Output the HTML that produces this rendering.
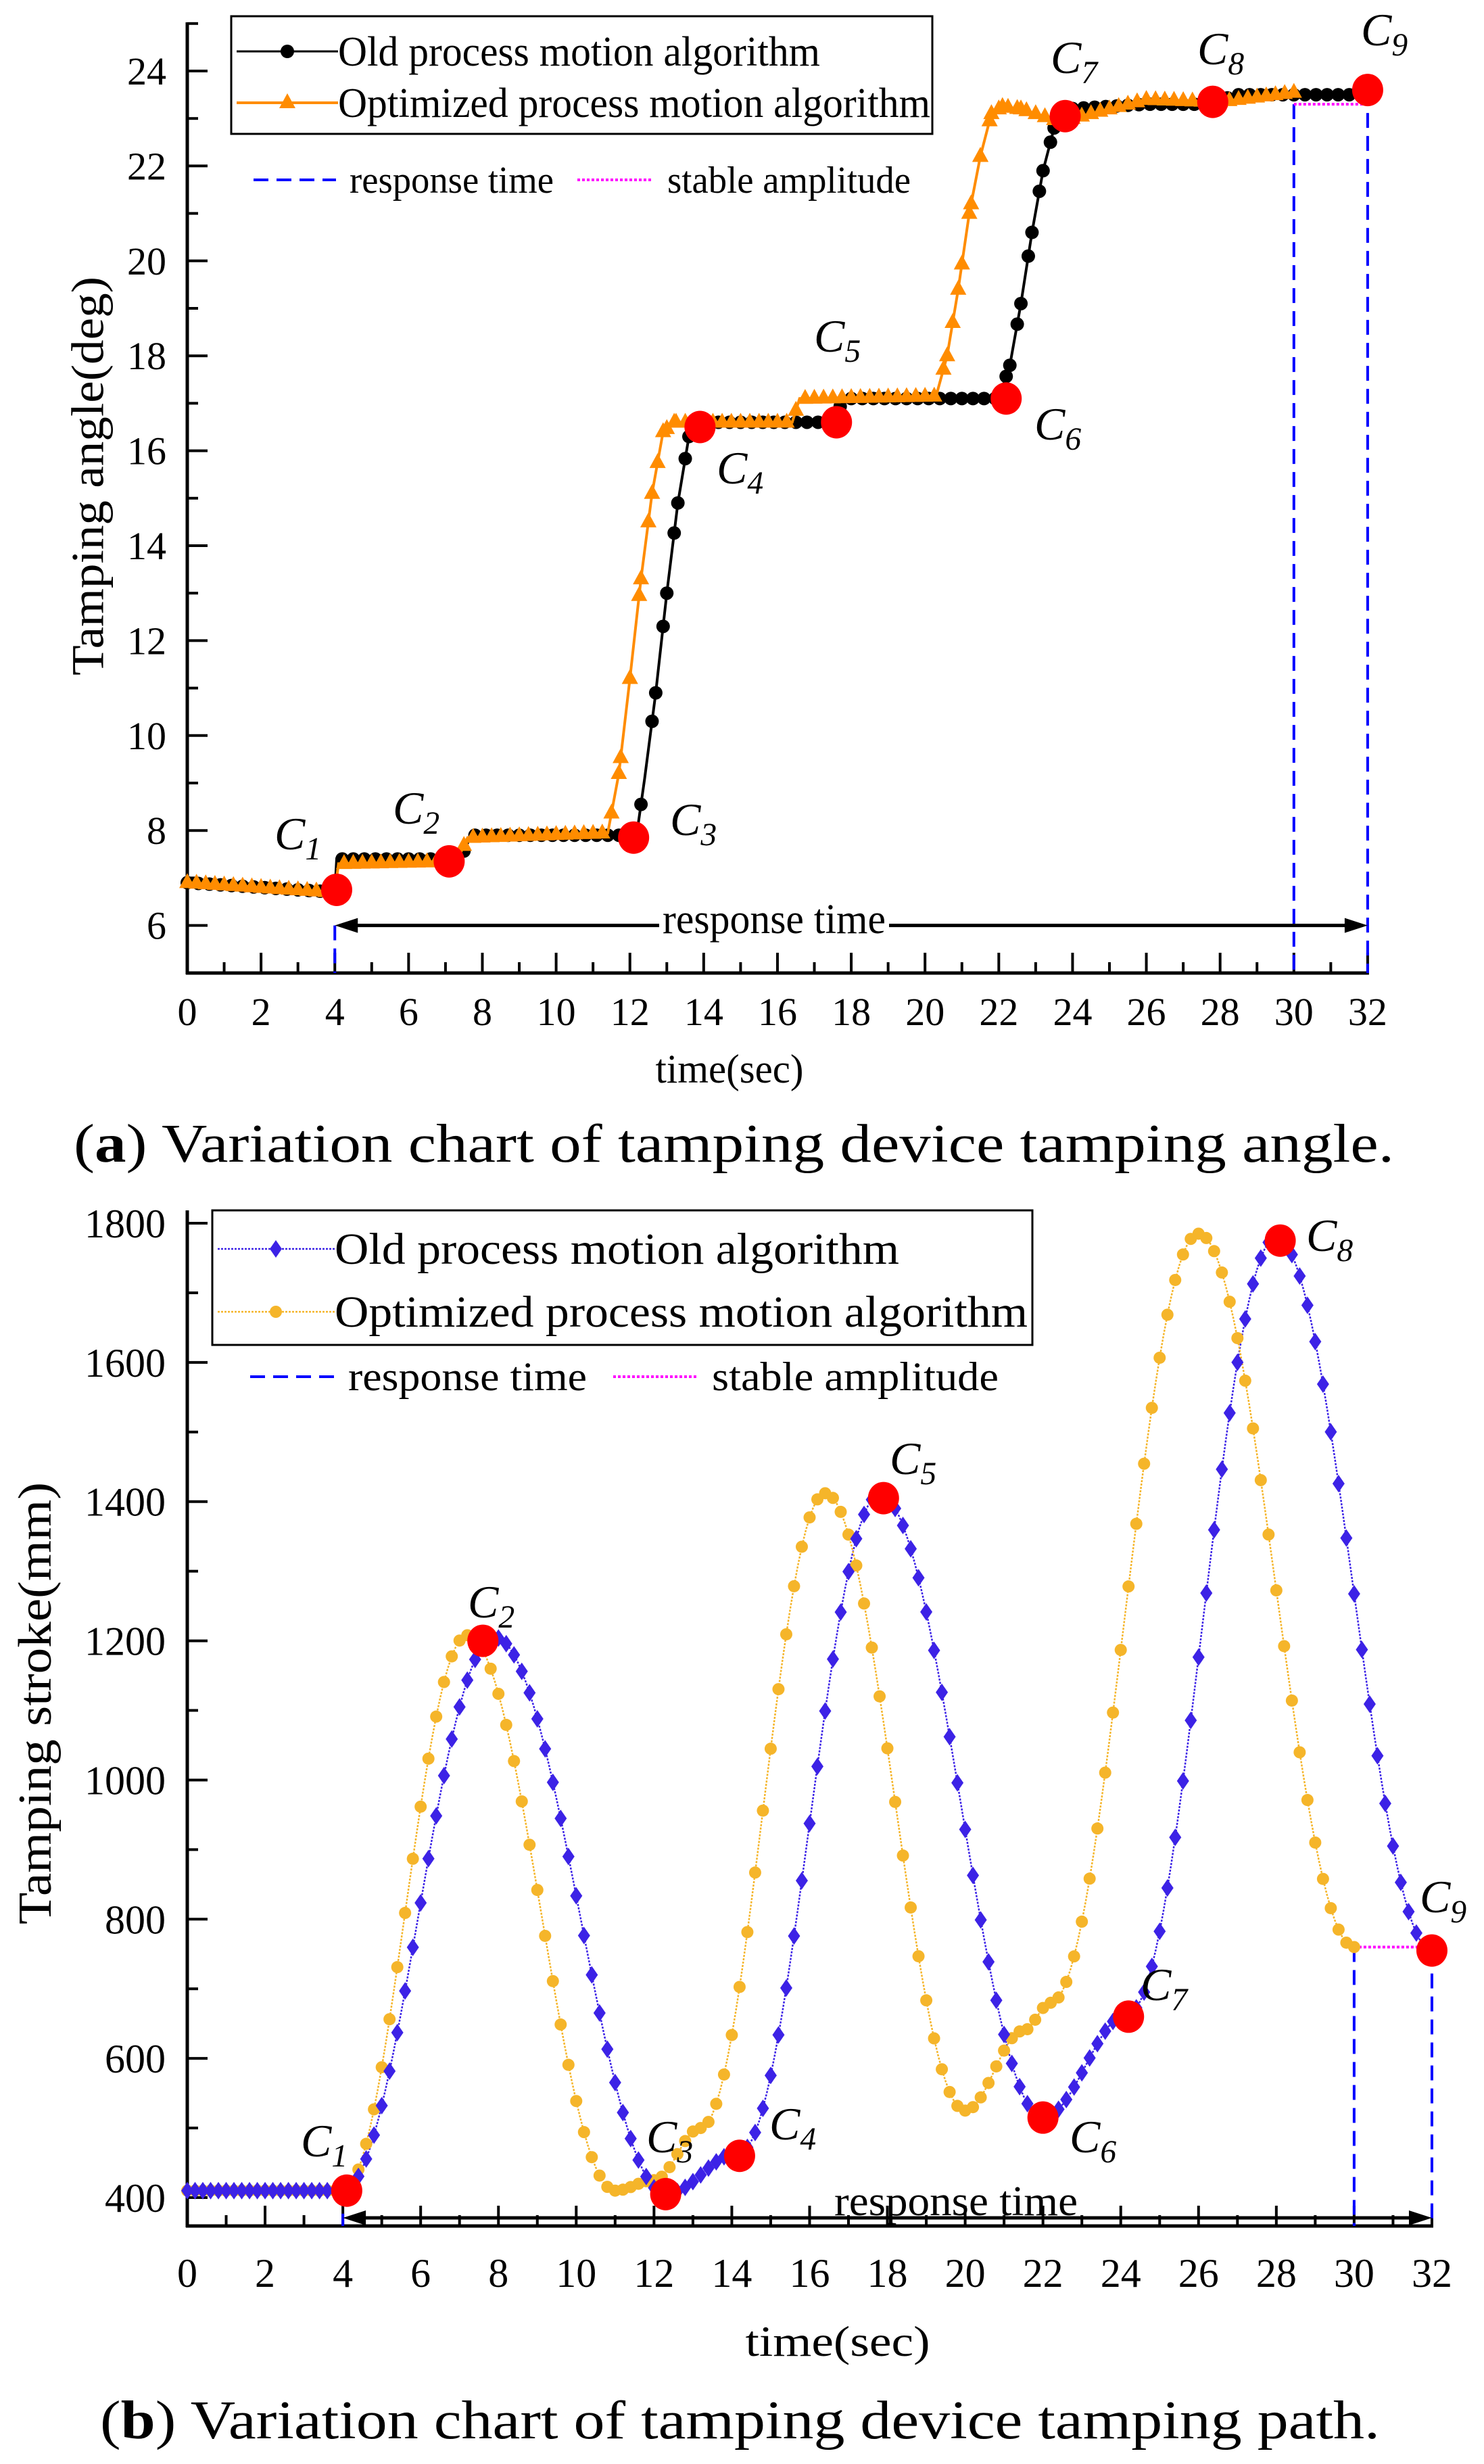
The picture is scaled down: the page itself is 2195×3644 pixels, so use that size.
<!DOCTYPE html>
<html><head><meta charset="utf-8"><style>
html,body{margin:0;padding:0;background:#fff}
svg{display:block}
svg text{font-family:"Liberation Serif","Times New Roman",Times,serif;fill:#000}
</style></head><body>
<svg id="s" width="2195" height="3644" viewBox="0 0 2195 3644" xmlns="http://www.w3.org/2000/svg" font-family="Liberation Serif, Times New Roman, serif">
<rect width="2195" height="3644" fill="#fff"/>
<g id="g1"></g><g id="g2"></g>
<g id="txt">
<text x="137" y="704" font-size="68" text-anchor="middle" transform="rotate(-90 137 704)" dominant-baseline="middle" textLength="590" lengthAdjust="spacingAndGlyphs">Tamping angle(deg)</text>
<text x="1079" y="1601" font-size="60" text-anchor="middle" textLength="219" lengthAdjust="spacingAndGlyphs">time(sec)</text>
<text x="109" y="1718" font-size="80" textLength="1953" lengthAdjust="spacingAndGlyphs">(<tspan font-weight="bold">a</tspan>) Variation chart of tamping device tamping angle.</text>
<text x="59" y="2519" font-size="70" text-anchor="middle" transform="rotate(-90 59 2519)" dominant-baseline="middle" textLength="654" lengthAdjust="spacingAndGlyphs">Tamping stroke(mm)</text>
<text x="1239" y="3484" font-size="64" text-anchor="middle" textLength="273" lengthAdjust="spacingAndGlyphs">time(sec)</text>
<text x="148" y="3606" font-size="80" textLength="1893" lengthAdjust="spacingAndGlyphs">(<tspan font-weight="bold">b</tspan>) Variation chart of tamping device tamping path.</text>
</g>
</svg>
<script>
const NS="http://www.w3.org/2000/svg";
function el(p,t,a,txt){const e=document.createElementNS(NS,t);for(const k in a)e.setAttribute(k,a[k]);if(txt!==undefined)e.textContent=txt;p.appendChild(e);return e;}
function interpLin(kp,t){for(let i=0;i<kp.length-1;i++){if(t>=kp[i][0]&&t<=kp[i+1][0]){const f=(t-kp[i][0])/(kp[i+1][0]-kp[i][0]);return kp[i][1]+f*(kp[i+1][1]-kp[i][1]);}}return kp[kp.length-1][1];}
function interpCos(kp,t){for(let i=0;i<kp.length-1;i++){if(t>=kp[i][0]&&t<=kp[i+1][0]){const f=(t-kp[i][0])/(kp[i+1][0]-kp[i][0]);const g=(1-Math.cos(Math.PI*f))/2;return kp[i][1]+g*(kp[i+1][1]-kp[i][1]);}}return kp[kp.length-1][1];}
function clabel(g,x,y,n,fs){const t=el(g,'text',{x:x,y:y,'font-size':fs,'font-style':'italic'});el(t,'tspan',{},'C');el(t,'tspan',{'font-size':fs*0.7,dy:fs*0.22},n);}
function redDot(g,x,y){el(g,'ellipse',{cx:x,cy:y,rx:23,ry:24,fill:'#ff0000'});}

/* ---------- chart 1 ---------- */
(function(){
const g=document.getElementById('g1');
const X=t=>277+t*54.56, Y=v=>105+(24-v)*70.2;
const x0=277, yb=1439, yt=33;
el(g,'line',{x1:x0,y1:yt,x2:x0,y2:yb+2,stroke:'#000','stroke-width':5});
el(g,'line',{x1:x0-2,y1:yb,x2:X(32)+2,y2:yb,stroke:'#000','stroke-width':5});
for(let t=0;t<=32;t++){const maj=t%2==0;el(g,'line',{x1:X(t),y1:yb,x2:X(t),y2:yb-(maj?30:16),stroke:'#000','stroke-width':4});
 if(maj) el(g,'text',{x:X(t),y:1516,'font-size':58,'text-anchor':'middle'},t);}
for(let v=5;v<=25;v++){const maj=v%2==0;el(g,'line',{x1:x0,y1:Y(v),x2:x0+(maj?30:16),y2:Y(v),stroke:'#000','stroke-width':4});
 if(maj&&v>=6&&v<=24) el(g,'text',{x:246,y:Y(v)+20,'font-size':58,'text-anchor':'end'},v);}
el(g,'line',{x1:X(4),y1:Y(6),x2:X(4),y2:yb,stroke:'#0000ff','stroke-width':4,'stroke-dasharray':'22 12'});
el(g,'line',{x1:X(30),y1:Y(23.3),x2:X(30),y2:yb,stroke:'#0000ff','stroke-width':4,'stroke-dasharray':'22 12'});
el(g,'line',{x1:X(32),y1:Y(23.6),x2:X(32),y2:yb,stroke:'#0000ff','stroke-width':4,'stroke-dasharray':'22 12'});
el(g,'line',{x1:X(30),y1:Y(23.3),x2:X(32),y2:Y(23.3),stroke:'#ff00ff','stroke-width':4,'stroke-dasharray':'4 3'});
const old=[[0,6.9],[4,6.7],[4.05,7.4],[7.4,7.4],[7.7,7.9],[12,7.9],[12.2,8],[12.4,9.1],[12.7,10.9],[13,13],[13.3,14.9],[13.6,16.3],[13.9,16.6],[17.5,16.6],[17.8,17.1],[22,17.1],[22.3,17.8],[22.6,19.1],[22.9,20.6],[23.2,21.9],[23.5,22.8],[23.8,23.2],[26,23.3],[28,23.3],[28.3,23.5],[32,23.5]];
const opt=[[0,6.9],[4,6.7],[4.1,7.3],[7.3,7.35],[7.6,7.85],[11.4,7.95],[11.7,9.2],[12,11.2],[12.3,13.3],[12.6,15.1],[12.9,16.4],[13.2,16.6],[16.4,16.6],[16.6,17.1],[20.3,17.15],[20.6,18],[20.9,19.4],[21.2,21],[21.5,22.2],[21.8,23.1],[22.1,23.25],[22.6,23.2],[23.6,22.95],[24,23],[25,23.2],[26,23.4],[28,23.35],[30,23.55]];
el(g,'polyline',{points:old.map(p=>X(p[0])+','+Y(p[1])).join(' '),fill:'none',stroke:'#000','stroke-width':4});
for(let t=0;t<=32.001;t+=0.3){el(g,'circle',{cx:X(t),cy:Y(interpLin(old,t)),r:10,fill:'#000'});}
for(const p of old.slice(8,12)) el(g,'circle',{cx:X(p[0]),cy:Y(p[1]),r:10,fill:'#000'});
for(const p of old.slice(15,21)) el(g,'circle',{cx:X(p[0]),cy:Y(p[1]),r:10,fill:'#000'});
el(g,'polyline',{points:opt.map(p=>X(p[0])+','+Y(p[1])).join(' '),fill:'none',stroke:'#ff8c00','stroke-width':4});
const tri=(x,y)=>el(g,'polygon',{points:`${x},${y-14} ${x-12},${y+8} ${x+12},${y+8}`,fill:'#ff8c00'});
for(let t=0;t<=30.001;t+=0.25){tri(X(t),Y(interpLin(opt,t)));}
for(const p of opt.slice(6,12)) tri(X(p[0]),Y(p[1]));
for(const p of opt.slice(15,22)) tri(X(p[0]),Y(p[1]));
el(g,'line',{x1:X(4)+25,y1:Y(6),x2:X(32)-25,y2:Y(6),stroke:'#000','stroke-width':5});
el(g,'polygon',{points:`${X(4)},${Y(6)} ${X(4)+34},${Y(6)-11} ${X(4)+34},${Y(6)+11}`,fill:'#000'});
el(g,'polygon',{points:`${X(32)},${Y(6)} ${X(32)-34},${Y(6)-11} ${X(32)-34},${Y(6)+11}`,fill:'#000'});
el(g,'rect',{x:975,y:1325,width:340,height:65,fill:'#fff'});
el(g,'text',{x:1145,y:1380,'font-size':62,'text-anchor':'middle',textLength:330,lengthAdjust:'spacingAndGlyphs'},'response time');
[[4.05,6.75],[7.1,7.35],[12.1,7.85],[13.9,16.5],[17.6,16.6],[22.2,17.1],[23.8,23.05],[27.8,23.35],[32,23.6]].forEach(p=>redDot(g,X(p[0]),Y(p[1])));
[[406,1256,1],[581,1218,2],[991,1235,3],[1060,715,4],[1204,520,5],[1530,650,6],[1554,108,7],[1771,95,8],[2013,67,9]].forEach(p=>clabel(g,p[0],p[1],p[2],68));
el(g,'rect',{x:342,y:24,width:1037,height:174,fill:'#fff',stroke:'#000','stroke-width':3});
el(g,'line',{x1:350,y1:76,x2:500,y2:76,stroke:'#000','stroke-width':3});el(g,'circle',{cx:425,cy:76,r:10,fill:'#000'});
el(g,'text',{x:500,y:97,'font-size':62,textLength:713,lengthAdjust:'spacingAndGlyphs'},'Old process motion algorithm');
el(g,'line',{x1:350,y1:152,x2:500,y2:152,stroke:'#ff8c00','stroke-width':4});tri(425,152);
el(g,'text',{x:500,y:173,'font-size':62,textLength:876,lengthAdjust:'spacingAndGlyphs'},'Optimized process motion algorithm');
el(g,'line',{x1:375,y1:266,x2:497,y2:266,stroke:'#0000ff','stroke-width':4,'stroke-dasharray':'22 12'});
el(g,'text',{x:517,y:285,'font-size':56,textLength:302,lengthAdjust:'spacingAndGlyphs'},'response time');
el(g,'line',{x1:854,y1:266,x2:966,y2:266,stroke:'#ff00ff','stroke-width':4,'stroke-dasharray':'4 3'});
el(g,'text',{x:987,y:285,'font-size':56,textLength:360,lengthAdjust:'spacingAndGlyphs'},'stable amplitude');
})();

/* ---------- chart 2 ---------- */
(function(){
const g=document.getElementById('g2');
const X=t=>277+t*57.53, Y=v=>1809+(1800-v)*1.0293;
const x0=277, yb=3292, yt=1790;
el(g,'line',{x1:x0,y1:yt,x2:x0,y2:yb+2,stroke:'#000','stroke-width':5});
el(g,'line',{x1:x0-2,y1:yb,x2:X(32)+2,y2:yb,stroke:'#000','stroke-width':5});
for(let t=0;t<=32;t++){const maj=t%2==0;el(g,'line',{x1:X(t),y1:yb,x2:X(t),y2:yb-(maj?30:16),stroke:'#000','stroke-width':4});
 if(maj) el(g,'text',{x:X(t),y:3382,'font-size':60,'text-anchor':'middle'},t);}
for(let v=400;v<=1800;v+=100){const maj=v%200==0;el(g,'line',{x1:x0,y1:Y(v),x2:x0+(maj?30:16),y2:Y(v),stroke:'#000','stroke-width':4});
 if(maj) el(g,'text',{x:245,y:Y(v)+21,'font-size':60,'text-anchor':'end'},v);}
el(g,'line',{x1:X(4),y1:Y(410),x2:X(4),y2:yb,stroke:'#0000ff','stroke-width':4,'stroke-dasharray':'22 12'});
el(g,'line',{x1:X(30),y1:Y(760),x2:X(30),y2:yb,stroke:'#0000ff','stroke-width':4,'stroke-dasharray':'22 12'});
el(g,'line',{x1:X(32),y1:Y(755),x2:X(32),y2:yb,stroke:'#0000ff','stroke-width':4,'stroke-dasharray':'22 12'});
el(g,'line',{x1:X(30),y1:Y(760),x2:X(32),y2:Y(760),stroke:'#ff00ff','stroke-width':4,'stroke-dasharray':'4 3'});
const old=[[0,410],[4,410],[7.9,1205],[12.3,405],[14.2,465],[17.8,1410],[22,515],[24.2,665],[28,1780],[32,755]];
const opt=[[0,410],[4,410],[7.2,1208],[11,410],[12,425],[13.2,500],[16.4,1412],[20,525],[21.5,640],[22.2,680],[26,1785],[30,760]];
const OC='#3c22e6', PC='#f5b52a';
let pts=[];for(let t=0;t<=32.001;t+=0.1)pts.push(X(t)+','+Y(interpCos(old,t)));
el(g,'polyline',{points:pts.join(' '),fill:'none',stroke:OC,'stroke-width':2.5,'stroke-dasharray':'3 2'});
pts=[];for(let t=0;t<=30.001;t+=0.1)pts.push(X(t)+','+Y(interpCos(opt,t)));
el(g,'polyline',{points:pts.join(' '),fill:'none',stroke:PC,'stroke-width':2.5,'stroke-dasharray':'3 2'});
for(let t=0;t<=30.001;t+=0.2){el(g,'circle',{cx:X(t),cy:Y(interpCos(opt,t)),r:9,fill:PC});}
const dia=(x,y)=>el(g,'polygon',{points:`${x},${y-13} ${x+9},${y} ${x},${y+13} ${x-9},${y}`,fill:OC});
for(let t=0;t<=32.001;t+=0.2){dia(X(t),Y(interpCos(old,t)));}
el(g,'line',{x1:X(4)+25,y1:3280,x2:X(32)-25,y2:3280,stroke:'#000','stroke-width':5});
el(g,'polygon',{points:`${X(4)},3280 ${X(4)+34},3269 ${X(4)+34},3291`,fill:'#000'});
el(g,'polygon',{points:`${X(32)},3280 ${X(32)-34},3269 ${X(32)-34},3291`,fill:'#000'});
el(g,'text',{x:1414,y:3276,'font-size':62,'text-anchor':'middle',textLength:360,lengthAdjust:'spacingAndGlyphs'},'response time');
[[4.1,410],[7.6,1200],[12.3,405],[14.2,460],[17.9,1405],[22,515],[24.2,660],[28.1,1775],[32,755]].forEach(p=>redDot(g,X(p[0]),Y(p[1])));
[[445,3189,1],[692,2392,2],[956,3183,3],[1138,3164,4],[1316,2180,5],[1582,3183,6],[1687,2958,7],[1932,1850,8],[2100,2828,9]].forEach(p=>clabel(g,p[0],p[1],p[2],68));
el(g,'rect',{x:314,y:1790,width:1213,height:199,fill:'#fff',stroke:'#000','stroke-width':3});
el(g,'line',{x1:322,y1:1847,x2:495,y2:1847,stroke:OC,'stroke-width':2.5,'stroke-dasharray':'3 2'});dia(408,1847);
el(g,'text',{x:495,y:1869,'font-size':66,textLength:835,lengthAdjust:'spacingAndGlyphs'},'Old process motion algorithm');
el(g,'line',{x1:322,y1:1940,x2:495,y2:1940,stroke:PC,'stroke-width':2.5,'stroke-dasharray':'3 2'});el(g,'circle',{cx:408,cy:1940,r:9,fill:PC});
el(g,'text',{x:495,y:1962,'font-size':66,textLength:1025,lengthAdjust:'spacingAndGlyphs'},'Optimized process motion algorithm');
el(g,'line',{x1:370,y1:2036,x2:498,y2:2036,stroke:'#0000ff','stroke-width':4,'stroke-dasharray':'22 12'});
el(g,'text',{x:515,y:2056,'font-size':60,textLength:353,lengthAdjust:'spacingAndGlyphs'},'response time');
el(g,'line',{x1:907,y1:2036,x2:1033,y2:2036,stroke:'#ff00ff','stroke-width':4,'stroke-dasharray':'4 3'});
el(g,'text',{x:1053,y:2056,'font-size':60,textLength:424,lengthAdjust:'spacingAndGlyphs'},'stable amplitude');
})();
</script>
</body></html>
